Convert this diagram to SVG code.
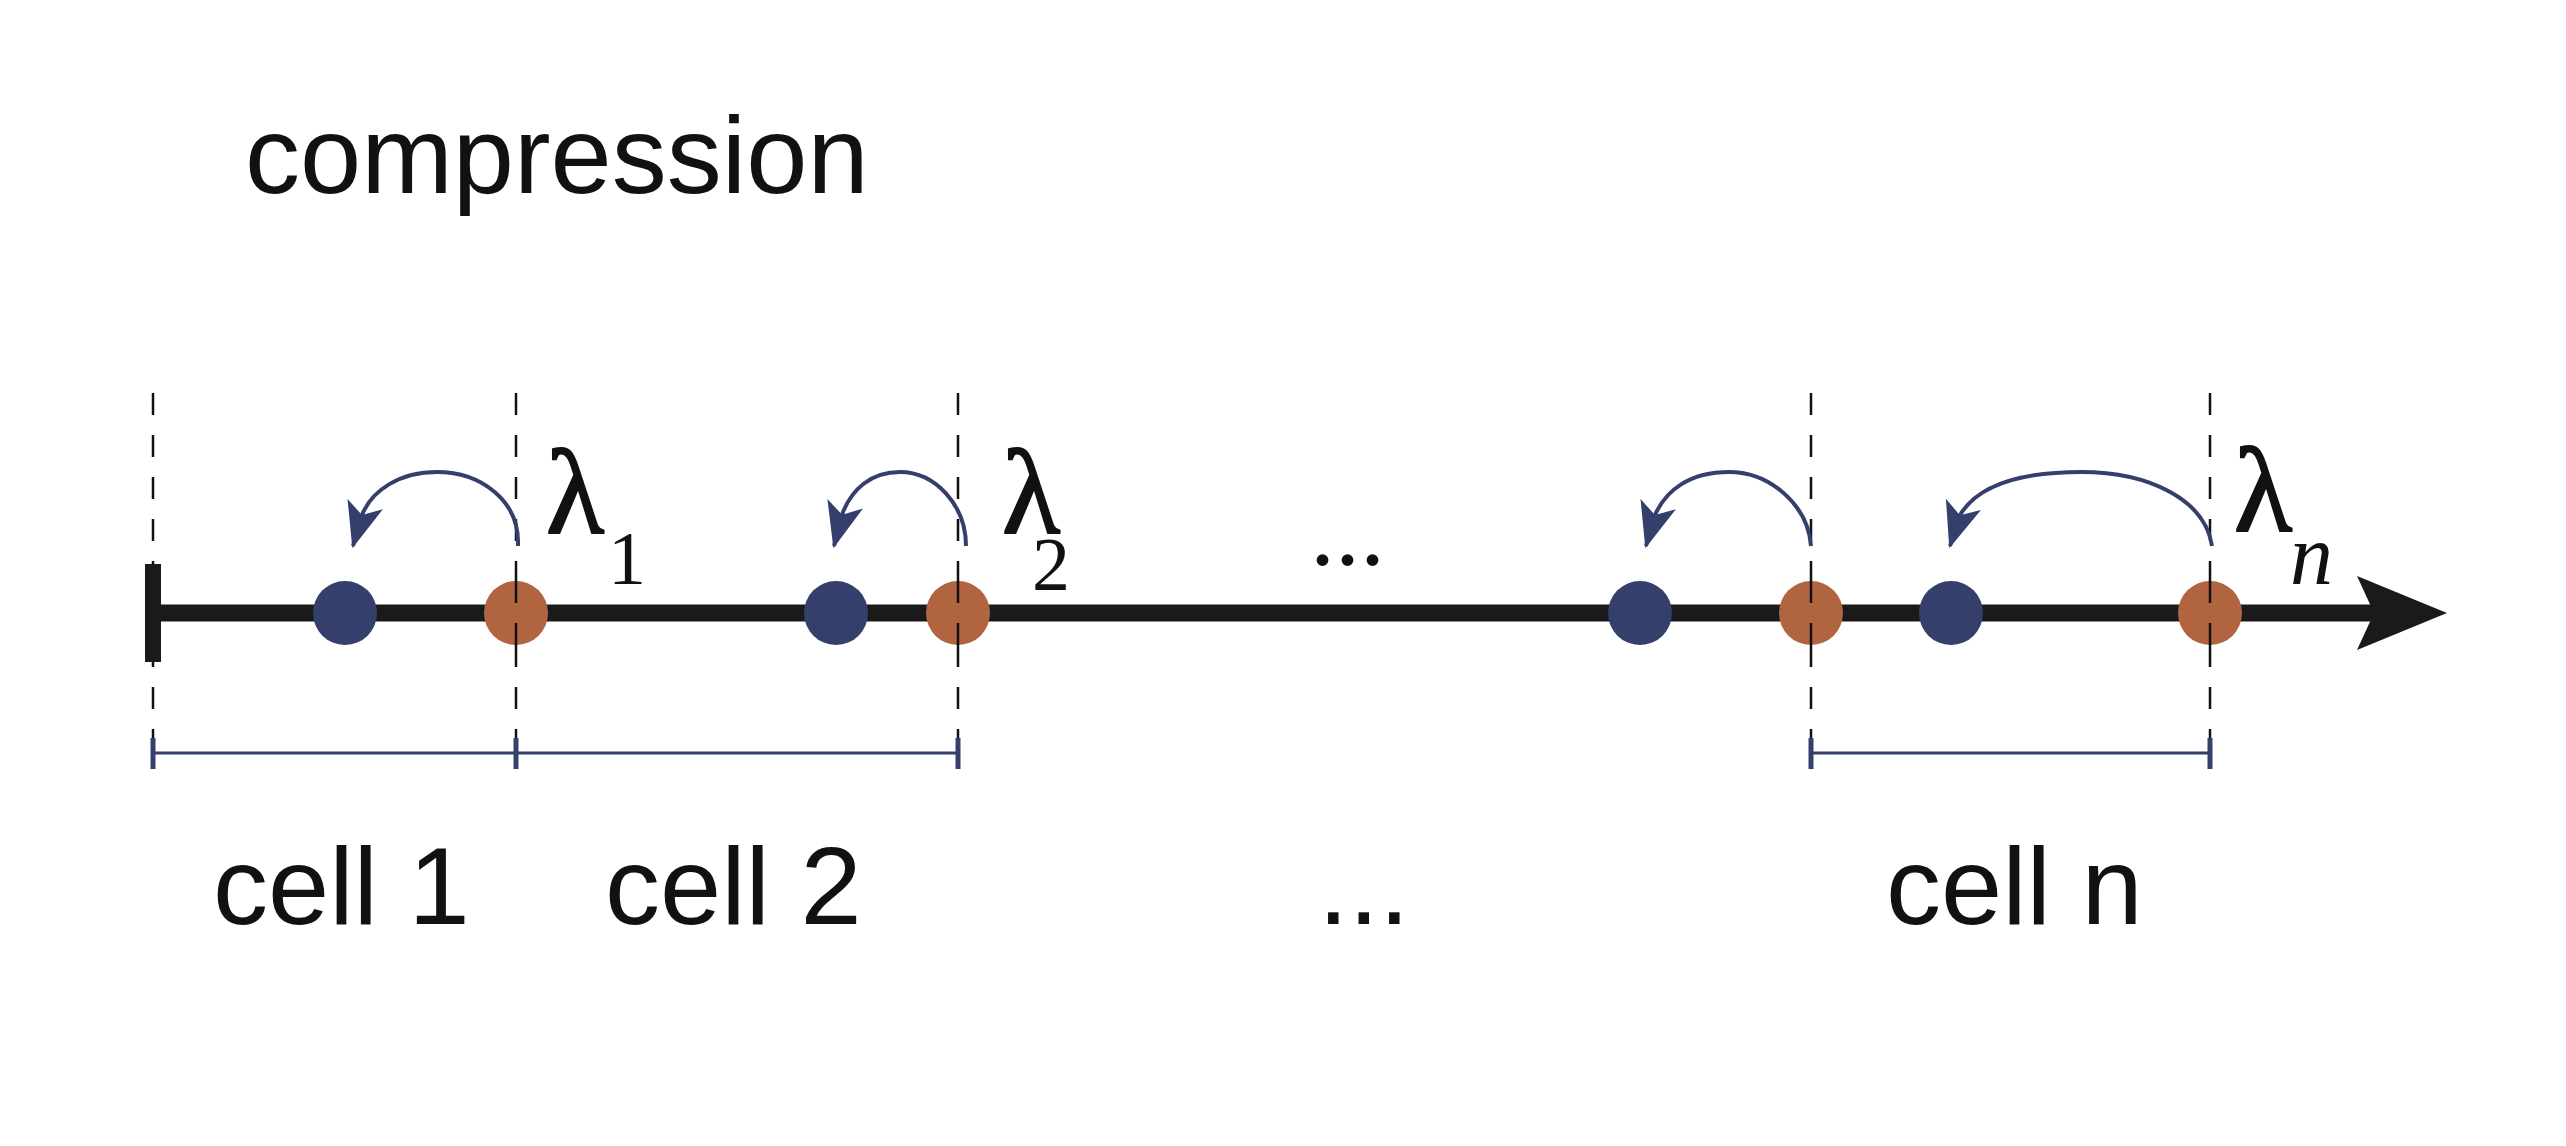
<svg xmlns="http://www.w3.org/2000/svg" width="2566" height="1146" viewBox="0 0 2566 1146">
<style>
.dash{stroke:#111;stroke-width:2.5;stroke-dasharray:22 20;fill:none}
.arc{stroke:#353f6b;stroke-width:4;fill:none}
.br{stroke:#353f6b;stroke-width:3;fill:none}
.tk{stroke:#353f6b;stroke-width:5}
.blue{fill:#353f6b}
.or{fill:#b06540}
.lab{font-family:"Liberation Sans",Arial,sans-serif;font-size:110px;fill:#111}
.gr{font-family:"Liberation Serif","Times New Roman",serif;fill:#111}
</style>
<defs>
<marker id="ah" viewBox="0 0 20 20" refX="19" refY="10" markerWidth="46" markerHeight="46" markerUnits="userSpaceOnUse" orient="auto">
<path d="M0,2 L20,10 L0,18 L5,10 Z" fill="#353f6b"/>
</marker>
</defs>
<text class="lab" x="245" y="193" font-size="120">compression</text>
<g id="guides">
<line class="dash" x1="153" y1="393" x2="153" y2="760"/>
<line class="dash" x1="516" y1="393" x2="516" y2="760"/>
<line class="dash" x1="958" y1="393" x2="958" y2="760"/>
<line class="dash" x1="1811" y1="393" x2="1811" y2="760"/>
<line class="dash" x1="2210" y1="393" x2="2210" y2="760"/>
</g>
<g id="axis">
<line x1="153" y1="613" x2="2380" y2="613" stroke="#1a1a1a" stroke-width="17"/>
<rect x="145" y="564" width="16" height="98" fill="#1a1a1a"/>
<polygon points="2357,576 2447,613 2357,650 2374,613" fill="#1a1a1a"/>
</g>
<g id="nodes">
<circle id="b1" class="blue" cx="345" cy="613" r="32"/>
<circle id="o1" class="or" cx="516" cy="613" r="32"/>
<circle id="b2" class="blue" cx="836" cy="613" r="32"/>
<circle id="o2" class="or" cx="958" cy="613" r="32"/>
<circle id="b3" class="blue" cx="1640" cy="613" r="32"/>
<circle id="o3" class="or" cx="1811" cy="613" r="32"/>
<circle id="b4" class="blue" cx="1951" cy="613" r="32"/>
<circle id="o4" class="or" cx="2210" cy="613" r="32"/>
</g>
<g id="dashes-over">
<line class="dash" x1="516" y1="581" x2="516" y2="645"/>
<line class="dash" x1="958" y1="581" x2="958" y2="645"/>
<line class="dash" x1="1811" y1="581" x2="1811" y2="645"/>
<line class="dash" x1="2210" y1="581" x2="2210" y2="645"/>
</g>
<g id="connectors">
<path class="arc" d="M518,546 C520,500 480,472 437,472 C400,472 372,490 362,515 L353,546" marker-end="url(#ah)"/>
<path class="arc" d="M966,546 C966,505 935,472 900,472 C870,472 852,490 843,512 L834,546" marker-end="url(#ah)"/>
<path class="arc" d="M1811,546 C1808,505 1770,472 1729,472 C1690,472 1666,490 1655,515 L1646,546" marker-end="url(#ah)"/>
<path class="arc" d="M2212,546 C2205,500 2150,472 2081,472 C2010,472 1975,490 1960,515 L1950,546" marker-end="url(#ah)"/>
</g>
<g id="labels">
<text class="gr" x="546" y="533" font-size="120" stroke="#111" stroke-width="2">λ</text>
<text class="gr" x="608" y="584" font-size="76">1</text>
<text class="gr" x="1002" y="533" font-size="120" stroke="#111" stroke-width="2">λ</text>
<text class="gr" x="1032" y="590" font-size="76">2</text>
<text class="gr" x="2234" y="531" font-size="120" stroke="#111" stroke-width="2">λ</text>
<text class="gr" x="2290" y="584" font-size="86" font-style="italic">n</text>
<text class="gr" x="1310" y="565" font-size="100">...</text>
</g>
<g id="brackets">
<line class="br" x1="153" y1="753" x2="958" y2="753"/>
<line class="tk" x1="153" y1="738" x2="153" y2="769" stroke-width="3"/>
<line class="tk" x1="516" y1="738" x2="516" y2="769" stroke-width="6"/>
<line class="tk" x1="958" y1="738" x2="958" y2="769" stroke-width="3"/>
<line class="br" x1="1811" y1="753" x2="2210" y2="753"/>
<line class="tk" x1="1811" y1="738" x2="1811" y2="769" stroke-width="3"/>
<line class="tk" x1="2210" y1="738" x2="2210" y2="769" stroke-width="3"/>
</g>
<text class="lab" x="213" y="924">cell 1</text>
<text class="lab" x="605" y="924">cell 2</text>
<text class="lab" x="1318" y="924">...</text>
<text class="lab" x="1886" y="924">cell n</text>
</svg>
